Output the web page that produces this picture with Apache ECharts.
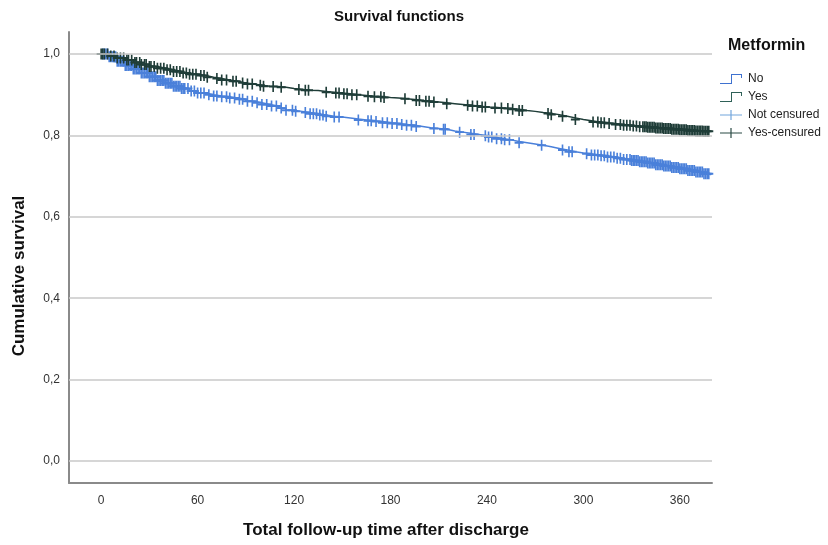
<!DOCTYPE html>
<html>
<head>
<meta charset="utf-8">
<script src="https://cdn.jsdelivr.net/npm/echarts@6/dist/echarts.min.js"></script>
<style>
html,body{margin:0;padding:0;background:#fff;}
#chart{width:828px;height:545px;}
</style>
</head>
<body>
<div id="chart"></div>
<script>
// ---- data ----
const xTicks = [0, 60, 120, 180, 240, 300, 360];
const yTicks = [0, 0.2, 0.4, 0.6, 0.8, 1.0];

// Metformin = No : survival curve (time, survival)
const noTimes = [0,5,10,15,20,25,30,35,40,45,50,55,60,65,70,75,80,85,90,95,100,105,110,115,120,125,130,135,140,145,150,155,160,165,170,175,180,185,190,195,200,205,210,215,220,225,230,235,240,245,250,255,260,265,270,275,280,285,290,295,300,305,310,315,320,325,330,335,340,345,350,355,360,365,370,375,379];
const noSurv  = [1.0,0.993,0.982,0.972,0.963,0.953,0.944,0.935,0.928,0.921,0.915,0.909,0.904,0.900,0.897,0.895,0.892,0.889,0.884,0.880,0.876,0.872,0.867,0.862,0.859,0.856,0.853,0.850,0.847,0.845,0.843,0.840,0.838,0.836,0.834,0.831,0.829,0.827,0.825,0.822,0.819,0.817,0.815,0.811,0.808,0.805,0.802,0.799,0.796,0.792,0.789,0.785,0.782,0.779,0.776,0.772,0.768,0.764,0.760,0.757,0.755,0.752,0.750,0.747,0.744,0.741,0.738,0.735,0.732,0.728,0.725,0.721,0.718,0.714,0.710,0.706,0.702];

// Metformin = Yes : survival curve
const yesTimes = [0,5,10,15,20,25,30,35,40,45,50,55,60,65,70,75,80,85,90,95,100,105,110,115,120,125,130,135,140,145,150,155,160,165,170,175,180,185,190,195,200,205,210,215,220,225,230,235,240,245,250,255,260,265,270,275,280,285,290,295,300,305,310,315,320,325,330,335,340,345,350,355,360,365,370,375,379];
const yesSurv  = [1.0,0.995,0.990,0.985,0.979,0.974,0.969,0.965,0.961,0.957,0.953,0.950,0.947,0.943,0.940,0.936,0.933,0.929,0.926,0.923,0.921,0.920,0.918,0.915,0.913,0.911,0.910,0.908,0.906,0.904,0.902,0.900,0.898,0.896,0.895,0.893,0.892,0.890,0.888,0.886,0.884,0.882,0.880,0.878,0.876,0.874,0.872,0.870,0.869,0.867,0.866,0.864,0.861,0.859,0.856,0.854,0.851,0.847,0.843,0.839,0.836,0.833,0.831,0.829,0.827,0.825,0.823,0.821,0.820,0.818,0.817,0.815,0.814,0.812,0.811,0.810,0.809];

// censoring times
const noCensored = [1,2,3,4,5,6,7,8,9,10,11,12,13,14,15,16,17,18,19,20,21,22,23,24,25,26,27,28,29,30,31,32,33,34,35,36,37,38,39,40,41,42,43,44,45,46,47,48,49,50,51,52,54,56,58,60,62,64,67,70,72,75,78,80,83,86,88,91,94,97,100,103,106,109,112,115,119,121,127,130,132,134,136,138,140,145,148,160,166,168,171,175,178,181,184,187,190,193,196,207,213,214,223,230,232,239,241,243,246,249,251,254,260,274,287,291,293,302,305,307,309,311,313,315,317,319,321,323,325,327,329,330,331,332,333,334,335,336,337,338,339,340,341,342,343,344,345,346,347,348,349,350,351,352,353,354,355,356,357,358,359,360,361,362,363,364,365,366,367,368,369,370,371,372,373,374,375,376,377,378];
const yesCensored = [0,1,2,4,6,8,10,12,14,16,17,19,21,22,24,25,27,28,30,31,33,35,37,39,41,43,45,47,49,51,53,55,57,59,62,64,66,72,75,78,82,84,88,91,94,99,101,107,112,123,127,129,140,146,148,151,153,156,159,166,170,174,176,189,196,198,202,204,207,215,228,231,234,237,239,245,249,253,256,260,262,278,280,287,295,306,309,311,313,316,320,323,325,327,329,331,333,335,337,338,339,340,341,342,343,344,345,346,347,348,349,350,351,352,353,354,355,356,357,358,359,360,361,362,363,364,365,366,367,368,369,370,371,372,373,374,375,376,377,378];

// ---- build ----
function pairs(ts, vs){ return ts.map((t,i)=>[t, vs[i]]); }
function lookup(ts, vs, t){
  let v = vs[0];
  for (let i=0;i<ts.length;i++){ if (ts[i] <= t) v = vs[i]; else break; }
  return v;
}
const BLUE = '#4a80da', GREEN = '#1f3d38';
const plus = 'path://M4.1,0 L5.9,0 L5.9,4.1 L10,4.1 L10,5.9 L5.9,5.9 L5.9,10 L4.1,10 L4.1,5.9 L0,5.9 L0,4.1 L4.1,4.1 Z';
const stepIcon = 'path://M0,9 L11,9 L11,0 L22,0 L22,4 L21,4 L21,1 L12,1 L12,10 L0,10 Z';
const crossIcon = 'path://M0,4.5 L10.4,4.5 L10.4,0 L11.6,0 L11.6,4.5 L22,4.5 L22,5.5 L11.6,5.5 L11.6,10 L10.4,10 L10.4,5.5 L0,5.5 Z';
const FONT = '"Liberation Sans", Arial, Helvetica, sans-serif';

const chart = echarts.init(document.getElementById('chart'), null, {renderer:'canvas'});
chart.setOption({
  animation: false,
  backgroundColor: '#fff',
  textStyle: {fontFamily: FONT},
  grid: {left: 69, right: 116, top: 32, bottom: 62, containLabel: false},
  xAxis: {
    type: 'value', min: -20, max: 380,
    axisLine: {show: true, onZero: false, lineStyle: {color: '#8a8a8a', width: 2}},
    axisTick: {show: false},
    splitLine: {show: false},
    axisLabel: {customValues: xTicks, color: '#333', fontSize: 12, margin: 12, fontFamily: FONT}
  },
  yAxis: {
    type: 'value', min: -0.054, max: 1.054,
    axisLine: {show: true, onZero: false, lineStyle: {color: '#8a8a8a', width: 2}},
    axisTick: {show: false},
    splitLine: {show: false},
    axisLabel: {customValues: yTicks, color: '#333', fontSize: 12, margin: 9, fontFamily: FONT,
      formatter: v => v.toFixed(1).replace('.', ',')}
  },
  legend: {
    orient: 'vertical', left: 715, top: 68, itemGap: 6, itemWidth: 24, itemHeight: 10,
    textStyle: {fontSize: 12, color: '#222', fontFamily: FONT},
    data: [
      {name: 'No', icon: stepIcon, itemStyle: {color: '#3f72d0'}},
      {name: 'Yes', icon: stepIcon, itemStyle: {color: '#2f6158'}},
      {name: 'Not censured', icon: crossIcon, itemStyle: {color: '#72a6dc'}},
      {name: 'Yes-censured', icon: crossIcon, itemStyle: {color: '#2a4a44'}}
    ]
  },
  graphic: [
    {type: 'text', left: 334, top: 9, style: {text: 'Survival functions', font: 'bold 15px ' + FONT, fill: '#111'}},
    {type: 'text', x: 728, y: 38, style: {text: 'Metformin', font: 'bold 16px ' + FONT, fill: '#111'}},
    {type: 'text', x: 386, y: 530, style: {text: 'Total follow-up time after discharge', font: 'bold 17px ' + FONT, fill: '#111', align: 'center', verticalAlign: 'middle'}},
    {type: 'text', x: 19, y: 276, rotation: Math.PI/2, style: {text: 'Cumulative survival', font: 'bold 17px ' + FONT, fill: '#111', align: 'center', verticalAlign: 'middle'}}
  ],
  series: [
    {
      name: 'grid', type: 'line', data: [], silent: true,
      markLine: {silent: true, symbol: 'none', label: {show: false},
        lineStyle: {color: '#c9c9c9', width: 1.6, type: 'solid'},
        data: yTicks.map(v => ({yAxis: v}))}
    },
    {name: 'No', type: 'line', step: 'end', showSymbol: false, data: pairs(noTimes, noSurv),
      lineStyle: {color: BLUE, width: 1.5}, itemStyle: {color: BLUE}, z: 3},
    {name: 'Yes', type: 'line', step: 'end', showSymbol: false, data: pairs(yesTimes, yesSurv),
      lineStyle: {color: GREEN, width: 1.5}, itemStyle: {color: GREEN}, z: 3},
    {name: 'Not censured', type: 'scatter', symbol: plus, symbolSize: [9, 11],
      data: noCensored.map(t => [t, lookup(noTimes, noSurv, t)]), itemStyle: {color: BLUE, opacity: 1}, z: 4},
    {name: 'Yes-censured', type: 'scatter', symbol: plus, symbolSize: [9, 11],
      data: yesCensored.map(t => [t, lookup(yesTimes, yesSurv, t)]), itemStyle: {color: GREEN, opacity: 1}, z: 4}
  ]
});
</script>
</body>
</html>
